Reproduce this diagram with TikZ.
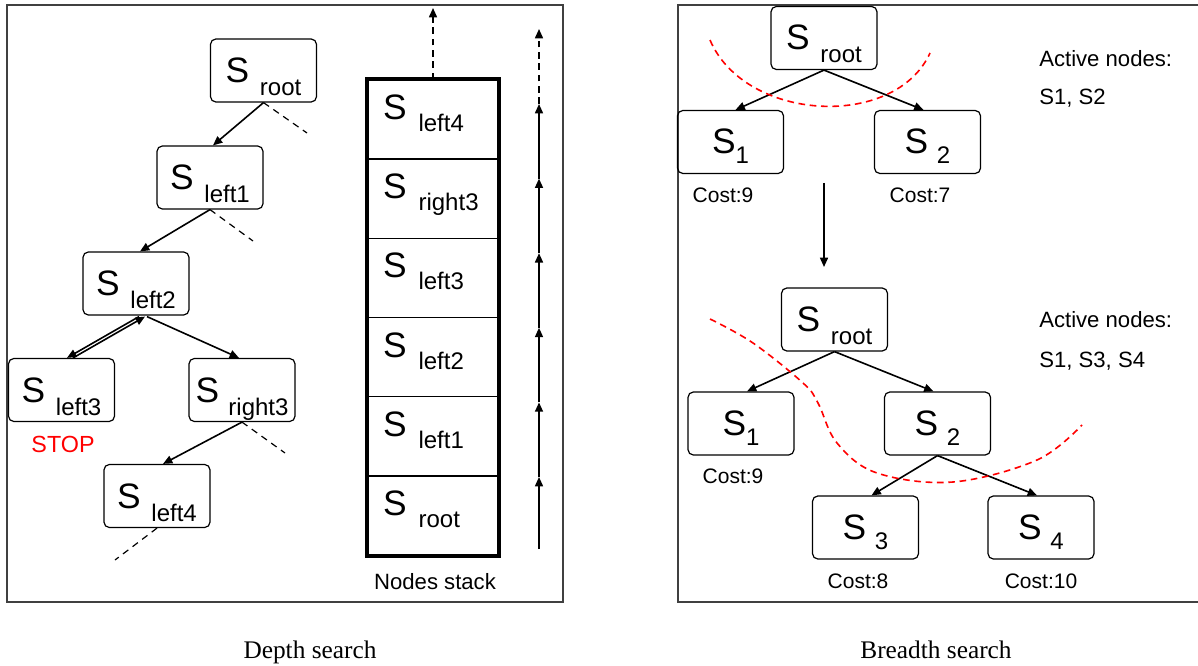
\documentclass[tikz,border=0pt]{standalone}
\usepackage{fontspec}
\setmainfont{Liberation Sans}
\newfontfamily\serifcap{Liberation Serif}
\usetikzlibrary{arrows.meta,calc}
\newcommand\SL[3]{{\fontsize{26.5}{30}\selectfont S}\hspace{#1}\raisebox{-#2}{\fontsize{18}{20}\selectfont #3}}
\begin{document}
\begin{tikzpicture}[x=0.75pt,y=-0.75pt,
  tnode/.style={draw, rounded corners=4pt, line width=0.9pt, minimum width=79.5pt, minimum height=47.25pt, inner sep=0pt, text height=20pt, text depth=2pt},
  cell/.style={draw, line width=1pt, minimum width=97.5pt, minimum height=59.4pt, inner sep=0pt, text width=75pt, align=left, text height=10pt, text depth=10pt},
  arr/.style={-{Triangle[length=7pt,width=6pt]}, line width=1.2pt},
  stub/.style={line width=0.9pt, dash pattern=on 5pt off 4pt},
  dasharr/.style={-{Triangle[length=7pt,width=6pt]}, line width=1.2pt, dash pattern=on 5pt off 3.5pt},
  cut/.style={red, line width=1.2pt, dash pattern=on 5pt off 3.5pt},
  frame/.style={black!75, line width=1pt},
  txt/.style={font=\fontsize{15.75}{18}\selectfont, inner sep=0pt},
  big/.style={font=\fontsize{16.6}{19}\selectfont, inner sep=0pt},
  capt/.style={font=\serifcap\fontsize{19}{22}\selectfont, inner sep=0pt}]
\useasboundingbox (0,0) rectangle (1198,666);
% frames
\draw[frame] (7,5) rectangle (563,602);
\draw[frame] (1198,5) -- (678,5) -- (678,602) -- (1198,602);

% ---- depth search tree
\node[tnode] (root) at (263.5,70.5) {\SL{8pt}{9.75pt}{root}};
\node[tnode] (left1) at (210,177.5) {\SL{8pt}{9.75pt}{left1}};
\node[tnode] (left2) at (136,283.5) {\SL{8pt}{9.75pt}{left2}};
\node[tnode] (left3) at (61.5,390) {\SL{8pt}{9.75pt}{left3}};
\node[tnode] (right3) at (242,390) {\SL{7pt}{9.75pt}{right3}};
\node[tnode] (left4) at (157,496) {\SL{8pt}{9.75pt}{left4}};
\node[anchor=base, text=red, inner sep=0pt, font=\fontsize{17.5}{20}\selectfont] (stop) at (63,452) {STOP};

\coordinate (d1) at (307,133);
\coordinate (d2) at (253,241);
\coordinate (d3) at (285,453);
\coordinate (d4) at (115,560);
\draw[arr] (root.south) -- ($(left1.north)+(3,0)$);
\draw[stub] (root.south) -- (d1);
\draw[arr] (left1.south) -- ($(left2.north)+(4,0)$);
\draw[stub] (left1.south) -- (d2);
\draw[arr] ($(left2.south)+(3,1)$) -- ($(left3.north)+(5.5,0)$);
\draw[arr] ($(left3.north)+(11.5,0)$) -- ($(left2.south)+(9,1)$);
\draw[arr] ($(left2.south)+(11,1)$) -- ($(right3.north)+(-3,0)$);
\draw[arr] (right3.south) -- ($(left4.north)+(6,0)$);
\draw[stub] (right3.south) -- (d3);
\draw[stub] (left4.south) -- (d4);

% ---- nodes stack
\node[cell] (c1) at (433,515.4) {\SL{9pt}{9pt}{root}};
\node[cell] (c2) at (433,436.25) {\SL{9pt}{9pt}{left1}};
\node[cell] (c3) at (433,357.1) {\SL{9pt}{9pt}{left2}};
\node[cell] (c4) at (433,277.9) {\SL{9pt}{9pt}{left3}};
\node[cell] (c5) at (433,198.75) {\SL{9pt}{9pt}{right3}};
\node[cell] (c6) at (433,119.6) {\SL{9pt}{9pt}{left4}};
\draw[line width=3pt] (c6.north west) rectangle (c1.south east);
\node[big, anchor=base] (stacklbl) at (435,589) {Nodes stack};
\coordinate (top) at (433,8);
\draw[dasharr] (c6.north) -- (top);

\coordinate (a0) at (539,549);
\coordinate (a1) at (539,477);
\coordinate (a2) at (539,402.4);
\coordinate (a3) at (539,327.8);
\coordinate (a4) at (539,253.2);
\coordinate (a5) at (539,178.6);
\coordinate (a6) at (539,104);
\coordinate (a7) at (539,29);
\draw[arr] (a0) -- (a1);
\draw[arr] (a1) -- (a2);
\draw[arr] (a2) -- (a3);
\draw[arr] (a3) -- (a4);
\draw[arr] (a4) -- (a5);
\draw[arr] (a5) -- (a6);
\draw[dasharr] (a6) -- (a7);

% ---- breadth search, step 1
\node[tnode] (r1) at (824,38) {\SL{8pt}{9.75pt}{root}};
\node[tnode] (s1) at (730.5,142) {\SL{0pt}{7.5pt}{1}};
\node[tnode] (s2) at (927.5,142) {\SL{6.5pt}{7.5pt}{2}};
\draw[arr] (r1.south) -- ($(s1.north)+(5,0)$);
\draw[arr] (r1.south) -- ($(s2.north)+(-4,0)$);
\node[txt, anchor=base] (cost1) at (723,203) {Cost:9};
\node[txt, anchor=base] (cost2) at (920,203) {Cost:7};
\node[big, anchor=base west] (act1) at (1039,67) {Active nodes:};
\node[big, anchor=base west] (act1b) at (1039,105) {S1, S2};
\draw[cut] (710,40) .. controls (745,122) and (895,130) .. (930,53);
\coordinate (m1) at (824,183);
\coordinate (m2) at (824,267);
\draw[arr] (m1) -- (m2);

% ---- breadth search, step 2
\node[tnode] (r2) at (834.5,319.5) {\SL{8pt}{9.75pt}{root}};
\node[tnode] (t1) at (741,423.5) {\SL{0pt}{7.5pt}{1}};
\node[tnode] (t2) at (937.5,423.5) {\SL{6.5pt}{7.5pt}{2}};
\node[tnode] (t3) at (865.5,527.5) {\SL{6.5pt}{7.5pt}{3}};
\node[tnode] (t4) at (1041,527.5) {\SL{6.5pt}{7.5pt}{4}};
\draw[arr] (r2.south) -- ($(t1.north)+(6,0)$);
\draw[arr] (r2.south) -- ($(t2.north)+(-4,0)$);
\draw[arr] (t2.south) -- ($(t3.north)+(6,0)$);
\draw[arr] (t2.south) -- ($(t4.north)+(-4,0)$);
\node[txt, anchor=base] (cost3) at (733,483) {Cost:9};
\node[txt, anchor=base] (cost4) at (858,588) {Cost:8};
\node[txt, anchor=base] (cost5) at (1041,588) {Cost:10};
\node[big, anchor=base west] (act2) at (1039,328) {Active nodes:};
\node[big, anchor=base west] (act2b) at (1039,367) {S1, S3, S4};
\draw[cut] plot[smooth, tension=0.6] coordinates {(710,319) (753,343) (803,383) (818,403) (837,443) (877,473) (953,482) (1037,460) (1082,425)};

% captions
\node[capt, anchor=base] (cap1) at (310,658) {Depth search};
\node[capt, anchor=base] (cap2) at (936,658) {Breadth search};
\end{tikzpicture}
\end{document}
